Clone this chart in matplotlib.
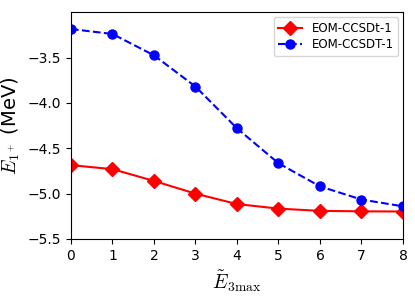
import matplotlib
matplotlib.use("Agg")
import matplotlib.pyplot as plt

plt.rcParams['mathtext.fontset'] = 'cm'

x = [0, 1, 2, 3, 4, 5, 6, 7, 8]
ccsdt_1_small = [-4.686, -4.73, -4.86, -5.0, -5.115, -5.165, -5.19, -5.195, -5.197]
ccsdt_1_full = [-3.185, -3.24, -3.475, -3.82, -4.28, -4.665, -4.92, -5.065, -5.14]
yticks = [-5.5, -5.0, -4.5, -4.0, -3.5]

fig = plt.figure(figsize=(4.15, 2.98), dpi=100)
ax = fig.add_axes([0.171, 0.198, 0.8, 0.761])
ax.plot(x, ccsdt_1_small, color='red', linestyle='-', marker='D', markersize=7, linewidth=1.5, label='EOM-CCSDt-1')
ax.plot(x, ccsdt_1_full, color='blue', linestyle='--', marker='o', markersize=6.5, linewidth=1.5, label='EOM-CCSDT-1')
ax.set_xlim(0, 8)
ax.set_ylim(-5.5, -3.0)
ax.set_yticks(yticks)
ax.set_xticks(x)
ax.tick_params(labelsize=10)
ax.set_xlabel(r'$\tilde{E}_{3\max}$', fontsize=14)
ax.set_ylabel(r'$E_{1^+}$ (MeV)', fontsize=14)
ax.legend(loc='upper right', fontsize=8.5, labelspacing=0.3, handlelength=2.0,
          borderaxespad=0.4)
fig.savefig('out.png', dpi=100)
